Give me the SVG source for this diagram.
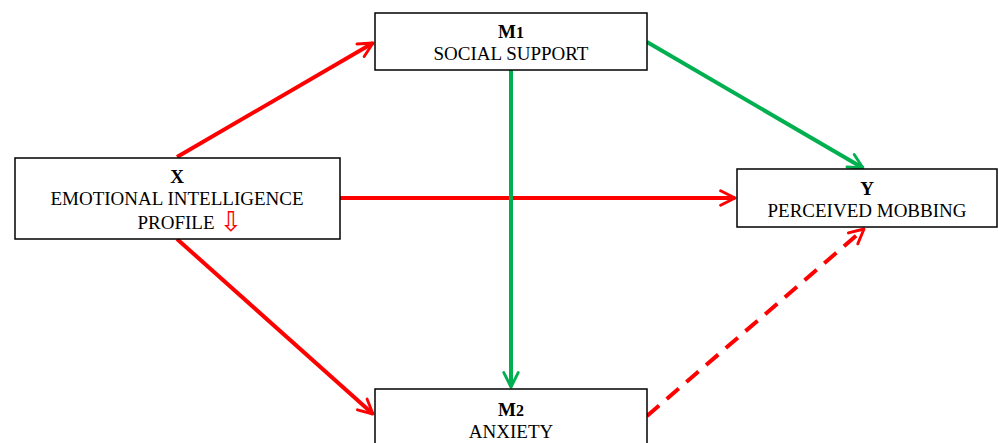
<svg xmlns="http://www.w3.org/2000/svg" width="998" height="443" viewBox="0 0 998 443">
<defs>
<marker id="ar" viewBox="0 0 10 10" refX="9" refY="5" markerWidth="4.5" markerHeight="4.5" orient="auto" markerUnits="strokeWidth">
<path d="M1,1 L9,5 L1,9" fill="none" stroke="#FF0000" stroke-width="1.6" stroke-linecap="round" stroke-linejoin="round"/>
</marker>
<marker id="ag" viewBox="0 0 10 10" refX="9" refY="5" markerWidth="4.5" markerHeight="4.5" orient="auto" markerUnits="strokeWidth">
<path d="M1,1 L9,5 L1,9" fill="none" stroke="#00B050" stroke-width="1.6" stroke-linecap="round" stroke-linejoin="round"/>
</marker>
</defs>
<style>
.box{fill:#fff;stroke:#000;stroke-width:1.5}
.t{font-family:"Liberation Serif","Times New Roman",serif;font-size:19px;fill:#000;text-anchor:middle}
.b{font-weight:bold}
.r{stroke:#FF0000;stroke-width:4;fill:none}
.g{stroke:#00B050;stroke-width:4;fill:none}
</style>
<rect width="998" height="443" fill="#fff"/>
<g id="connectors">
<line class="r" x1="177" y1="157" x2="373" y2="43" marker-end="url(#ar)"/>
<line class="r" x1="340" y1="198" x2="735" y2="198" marker-end="url(#ar)"/>
<line class="r" x1="177" y1="239" x2="373" y2="414" marker-end="url(#ar)"/>
<line class="g" x1="511" y1="70" x2="511" y2="387" marker-end="url(#ag)"/>
<line class="g" x1="647" y1="42" x2="863" y2="168" marker-end="url(#ag)"/>
<line class="r" x1="647" y1="416" x2="864" y2="229" stroke-dasharray="16,10" marker-end="url(#ar)"/>
</g>
<g id="node-x">
<rect class="box" x="15" y="158" width="325" height="81"/>
<text class="t b" x="177" y="183">X</text>
<text class="t" x="177" y="205">EMOTIONAL INTELLIGENCE</text>
<text class="t" x="176" y="229">PROFILE</text>
<text x="231" y="231" font-family="DejaVu Sans,sans-serif" font-size="27" fill="#FF0000" text-anchor="middle">⇩</text>
</g>
<g id="node-m1">
<rect class="box" x="375" y="13" width="272" height="57"/>
<text class="t b" x="511" y="38">M<tspan font-size="16">1</tspan></text>
<text class="t" x="511" y="60">SOCIAL SUPPORT</text>
</g>
<g id="node-m2">
<rect class="box" x="375" y="389" width="272" height="60"/>
<text class="t b" x="511" y="416">M<tspan font-size="16">2</tspan></text>
<text class="t" x="511" y="438">ANXIETY</text>
</g>
<g id="node-y">
<rect class="box" x="737" y="169" width="260" height="58"/>
<text class="t b" x="867" y="195">Y</text>
<text class="t" x="867" y="217">PERCEIVED MOBBING</text>
</g>
</svg>
